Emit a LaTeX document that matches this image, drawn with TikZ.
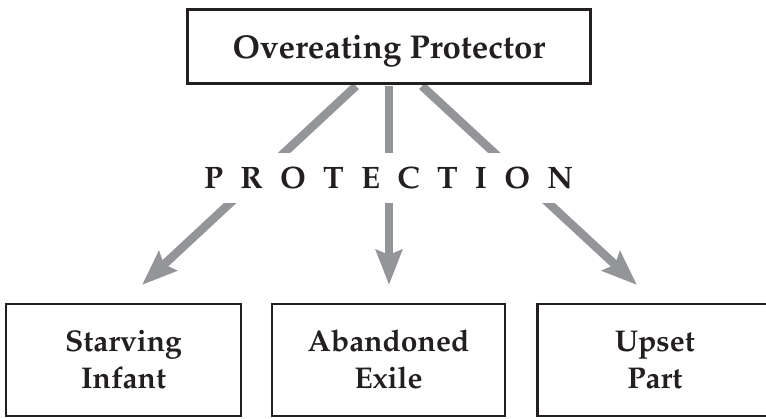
\documentclass[tikz,border=0pt]{standalone}
\usepackage[T1]{fontenc}
\renewcommand{\rmdefault}{ppl}
\usetikzlibrary{arrows.meta}
\definecolor{arrowgray}{HTML}{939598}
\definecolor{boxline}{HTML}{231F20}
\definecolor{txt}{HTML}{231F20}
\pgfdeclarelayer{bg}
\pgfsetlayers{bg,main}
\newcommand{\spacedword}{P\hspace{17.3pt}R\hspace{17.3pt}O\hspace{17.3pt}T\hspace{17.3pt}E\hspace{17.3pt}C\hspace{17.3pt}T\hspace{17.3pt}I\hspace{17.3pt}O\hspace{17.3pt}N}
\begin{document}
\begin{tikzpicture}[x=1pt,y=-1pt,
  topbox/.style={draw=boxline, line width=3pt, minimum width=403pt, minimum height=74pt,
    inner sep=0pt, text=txt, font=\fontsize{33}{40}\selectfont\bfseries,
    text height=24pt, text depth=0pt},
  partbox/.style={draw=boxline, line width=2.7pt, minimum height=112pt,
    inner sep=0pt, align=center, text=txt,
    font=\fontsize{30}{36.6}\selectfont\bfseries,
    text height=56pt, text depth=0pt},
  bandlabel/.style={fill=white, inner xsep=0pt, inner ysep=0pt, minimum height=50pt,
    text=txt, font=\fontsize{31}{36}\selectfont\bfseries, text height=21.5pt, text depth=0pt},
  protarrow/.style={draw=arrowgray, line width=8.5pt,
    -{Stealth[length=35pt, width=26pt, inset=5pt]}}
]
\clip (0,0) rectangle (766,418);
\node[topbox] (top) at (389,46.5) {Overeating Protector};
\node[partbox, minimum width=235pt] (infant) at (123.5,360) {Starving\\Infant};
\node[partbox, minimum width=233pt] (exile) at (388.5,360) {Abandoned\\Exile};
\node[partbox, minimum width=234.5pt] (upset) at (654.75,360) {Upset\\Part};
\coordinate (sL) at ([xshift=-33pt,yshift=-1pt]top.south);
\coordinate (sM) at ([yshift=-1pt]top.south);
\coordinate (sR) at ([xshift=33pt,yshift=-1pt]top.south);
\coordinate (tipL) at (142,285);
\coordinate (tipM) at (389,285);
\coordinate (tipR) at (637,285);
\begin{pgfonlayer}{bg}
\draw[protarrow] (sL) -- (tipL);
\draw[protarrow] (sM) -- (tipM);
\draw[protarrow] (sR) -- (tipR);
\end{pgfonlayer}
\node[bandlabel] (prot) at (388.7,178) {\spacedword};
\end{tikzpicture}
\end{document}
